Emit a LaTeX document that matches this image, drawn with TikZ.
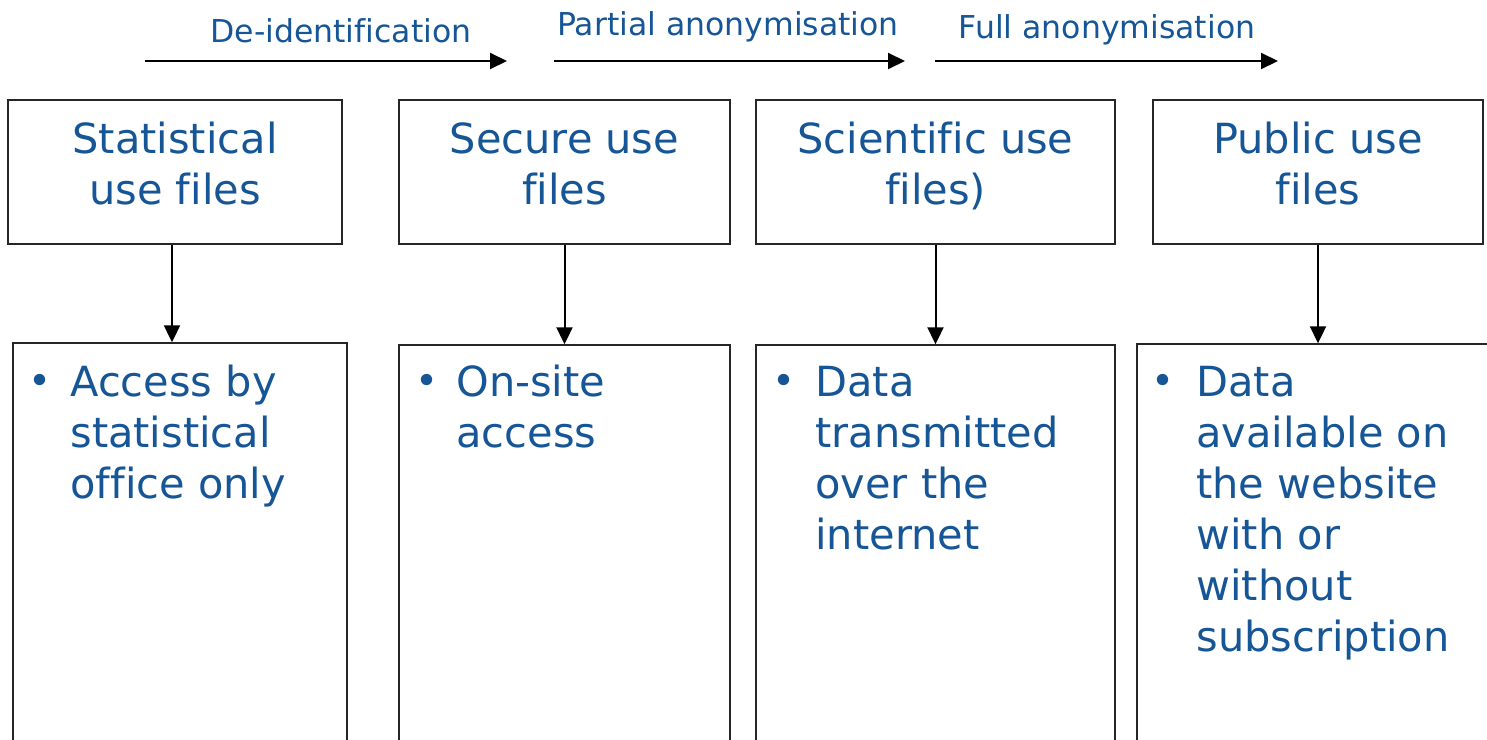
\documentclass[tikz,border=0pt]{standalone}
\usepackage{fontspec}
\setmainfont[Ligatures=NoCommon]{DejaVu Sans}
\usetikzlibrary{arrows.meta,fit}
\definecolor{txtblue}{RGB}{22,86,150}
\newcommand{\mybullet}{\raisebox{1pt}{\fontsize{19.5}{20}\selectfont •}}
\begin{document}
\begin{tikzpicture}[x=0.5pt,y=-0.5pt,
  box/.style={draw=black!85, line width=0.7pt, rectangle, inner sep=0pt},
  big/.style={font=\fontsize{20.75}{25.5}\selectfont, text=txtblue, inner sep=0pt},
  small/.style={font=\fontsize{15.75}{19}\selectfont, text=txtblue, inner sep=0pt},
  arr/.style={-{Triangle[length=8.5pt,width=8pt]}, line width=1pt, draw=black},
]
\useasboundingbox (0,0) rectangle (1487,739);
\clip (0,0) rectangle (1487,739);

% top labels and arrows
\node[small, anchor=base] (l1) at (341,42) {De-identification};
\node[small, anchor=base] (l2) at (728,35) {Partial anonymisation};
\node[small, anchor=base] (l3) at (1107,38) {Full anonymisation};
\coordinate (a1s) at (145,61); \coordinate (a1e) at (507,61);
\coordinate (a2s) at (554,61); \coordinate (a2e) at (905,61);
\coordinate (a3s) at (935,61); \coordinate (a3e) at (1278,61);
\draw[arr] (a1s) -- (a1e);
\draw[arr] (a2s) -- (a2e);
\draw[arr] (a3s) -- (a3e);

% top boxes
\node[box, fit={(8,100) (342,244)}] (t1) {};
\node[box, fit={(399,100) (730,244)}] (t2) {};
\node[box, fit={(756,100) (1115,244)}] (t3) {};
\node[box, fit={(1153,100) (1483,244)}] (t4) {};
\node[big, anchor=base] (t1txt) at (175,153) {\begin{tabular}[t]{@{}c@{}}Statistical\\use files\end{tabular}};
\node[big, anchor=base] (t2txt) at (564.5,153) {\begin{tabular}[t]{@{}c@{}}Secure use\\files\end{tabular}};
\node[big, anchor=base] (t3txt) at (935.5,153) {\begin{tabular}[t]{@{}c@{}}Scientific use\\files)\end{tabular}};
\node[big, anchor=base] (t4txt) at (1318,153) {\begin{tabular}[t]{@{}c@{}}Public use\\files\end{tabular}};

% bottom boxes
\node[box, fit={(13,343) (347,900)}] (b1) {};
\node[box, fit={(399,345) (730,900)}] (b2) {};
\node[box, fit={(756,345) (1115,900)}] (b3) {};
\node[box, fit={(1137,344) (1600,900)}] (b4) {};

\node[big, anchor=base] (b1dot) at (40,396) {\mybullet};
\node[big, anchor=base] (b2dot) at (427,396) {\mybullet};
\node[big, anchor=base] (b3dot) at (784,396) {\mybullet};
\node[big, anchor=base] (b4dot) at (1163,396) {\mybullet};
\node[big, anchor=base west] (b1txt) at (70,396) {\begin{tabular}[t]{@{}l@{}}Access by\\statistical\\office only\end{tabular}};
\node[big, anchor=base west] (b2txt) at (456,396) {\begin{tabular}[t]{@{}l@{}}On-site\\access\end{tabular}};
\node[big, anchor=base west] (b3txt) at (815,396) {\begin{tabular}[t]{@{}l@{}}Data\\transmitted\\over the\\internet\end{tabular}};
\node[big, anchor=base west] (b4txt) at (1196,396) {\begin{tabular}[t]{@{}l@{}}Data\\available on\\the website\\with or\\without\\subscription\end{tabular}};

% connectors
\draw[arr] ([xshift=-1.5pt]t1.south) -- ([xshift=-1.5pt]t1.south |- b1.north);
\draw[arr] (t2.south) -- (t2.south |- b2.north);
\draw[arr] (t3.south) -- (t3.south |- b3.north);
\draw[arr] (t4.south) -- (t4.south |- b4.north);
\end{tikzpicture}
\end{document}
